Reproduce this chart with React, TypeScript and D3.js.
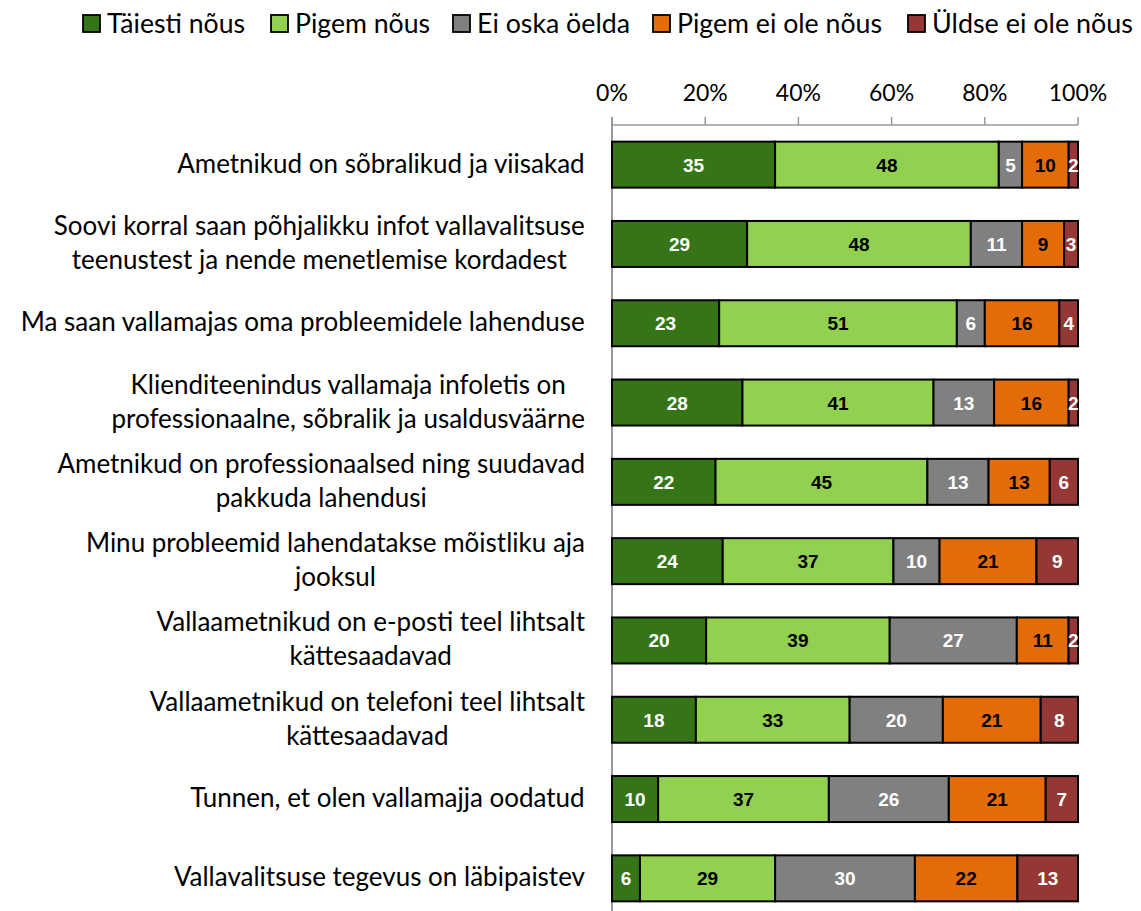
import * as d3 from "d3";
import { useMemo } from "react";

const categories: string[][] = [
  ["Ametnikud on sõbralikud ja viisakad"],
  ["Soovi korral saan põhjalikku infot vallavalitsuse", "teenustest ja nende menetlemise kordadest"],
  ["Ma saan vallamajas oma probleemidele lahenduse"],
  ["Klienditeenindus vallamaja infoletis on", "professionaalne, sõbralik ja usaldusväärne"],
  ["Ametnikud on professionaalsed ning suudavad", "pakkuda lahendusi"],
  ["Minu probleemid lahendatakse mõistliku aja", "jooksul"],
  ["Vallaametnikud on e-posti teel lihtsalt", "kättesaadavad"],
  ["Vallaametnikud on telefoni teel lihtsalt", "kättesaadavad"],
  ["Tunnen, et olen vallamajja oodatud"],
  ["Vallavalitsuse tegevus on läbipaistev"],
];

const seriesNames = ["Täiesti nõus", "Pigem nõus", "Ei oska öelda", "Pigem ei ole nõus", "Üldse ei ole nõus"];
const taiestiNous = [35, 29, 23, 28, 22, 24, 20, 18, 10, 6];
const pigemNous = [48, 48, 51, 41, 45, 37, 39, 33, 37, 29];
const eiOska = [5, 11, 6, 13, 13, 10, 27, 20, 26, 30];
const pigemEiOle = [10, 9, 16, 16, 13, 21, 11, 21, 21, 22];
const uldseEiOle = [2, 3, 4, 2, 6, 9, 2, 8, 7, 13];
const tickLabels = ["0%", "20%", "40%", "60%", "80%", "100%"];

const colors = ["#367517", "#92D050", "#808080", "#E36C09", "#953735"];
const textColors = ["#ffffff", "#000000", "#ffffff", "#000000", "#ffffff"];

const W = 1141;
const H = 911;
const x0 = 612;
const x1 = 1078;
const yTop = 125;
const yBottom = 918;
const labelFont = "Lato, 'Open Sans', sans-serif";

let ctx: CanvasRenderingContext2D | null = null;
function measure(text: string, size: number) {
  if (!ctx) ctx = document.createElement("canvas").getContext("2d");
  if (!ctx) return text.length * size * 0.5;
  ctx.font = `${size}px Lato`;
  return ctx.measureText(text).width;
}

export default function App() {
  const rows = useMemo(
    () =>
      categories.map((c, i) => ({
        key: i,
        s0: taiestiNous[i],
        s1: pigemNous[i],
        s2: eiOska[i],
        s3: pigemEiOle[i],
        s4: uldseEiOle[i],
      })),
    []
  );
  const keys = ["s0", "s1", "s2", "s3", "s4"];
  const stacked = useMemo(
    () => d3.stack<any>().keys(keys).offset(d3.stackOffsetExpand)(rows),
    [rows]
  );
  const x = d3.scaleLinear().domain([0, 1]).range([x0, x1]);
  const y = d3
    .scaleBand<number>()
    .domain(rows.map((r) => r.key))
    .range([yTop, yBottom])
    .paddingInner(0.42)
    .paddingOuter(0.21);
  const values = [taiestiNous, pigemNous, eiOska, pigemEiOle, uldseEiOle];

  const labelSize = 26;
  const legendX = [83, 271, 453, 653, 908];
  const legendW = [138, 135, 153, 205, 201];

  return (
    <div style={{ position: "absolute", left: 0, top: 0 }}>
      <svg width={W} height={H} style={{ display: "block", background: "#fff" }}>
        {/* legend */}
        {seriesNames.map((name, i) => (
          <g key={name} transform={`translate(${legendX[i]},0)`}>
            <rect x={0} y={15} width={17} height={17} fill={colors[i]} stroke="#000" strokeWidth={1.8} />
            <text
              x={24}
              y={33}
              fontFamily={labelFont}
              fontSize={27}
              textLength={legendW[i]}
              lengthAdjust="spacingAndGlyphs"
              fill="#000"
            >
              {name}
            </text>
          </g>
        ))}

        {/* axis */}
        <line x1={x0} x2={x1} y1={yTop} y2={yTop} stroke="#999" strokeWidth={1.5} />
        <line x1={x0} x2={x0} y1={yTop - 8} y2={H} stroke="#999" strokeWidth={2} />
        {tickLabels.map((t, i) => {
          const v = x(i / 5);
          return (
            <g key={t}>
              <line x1={v} x2={v} y1={yTop - 8} y2={yTop} stroke="#999" strokeWidth={1.5} />
              <text x={v} y={101} textAnchor="middle" fontFamily={labelFont} fontSize={23} fill="#000">
                {t}
              </text>
            </g>
          );
        })}

        {/* bars */}
        {stacked.map((layer, si) =>
          layer.map((d, ri) => {
            const bx = x(d[0]);
            const bw = x(d[1]) - x(d[0]);
            const by = y(ri) as number;
            const bh = y.bandwidth();
            return (
              <g key={`${si}-${ri}`}>
                <rect x={bx} y={by} width={bw} height={bh} fill={colors[si]} stroke="#000" strokeWidth={2} />
                <text
                  x={bx + bw / 2}
                  y={by + bh / 2 + 7}
                  textAnchor="middle"
                  fontFamily="Arial, 'Liberation Sans', sans-serif"
                  fontWeight="bold"
                  fontSize={19}
                  fill={textColors[si]}
                >
                  {values[si][ri]}
                </text>
              </g>
            );
          })
        )}

        {/* category labels */}
        {categories.map((lines, i) => {
          const cy = (y(i) as number) + y.bandwidth() / 2;
          const maxW = Math.max(...lines.map((l) => measure(l, labelSize)));
          const cx = 585 - maxW / 2;
          const lh = 34;
          const startY = cy - ((lines.length - 1) * lh) / 2 + 8;
          return (
            <g key={i}>
              {lines.map((l, li) => (
                <text
                  key={li}
                  x={cx}
                  y={startY + li * lh}
                  textAnchor="middle"
                  fontFamily={labelFont}
                  fontSize={labelSize}
                  fill="#000"
                >
                  {l}
                </text>
              ))}
            </g>
          );
        })}
      </svg>
    </div>
  );
}
